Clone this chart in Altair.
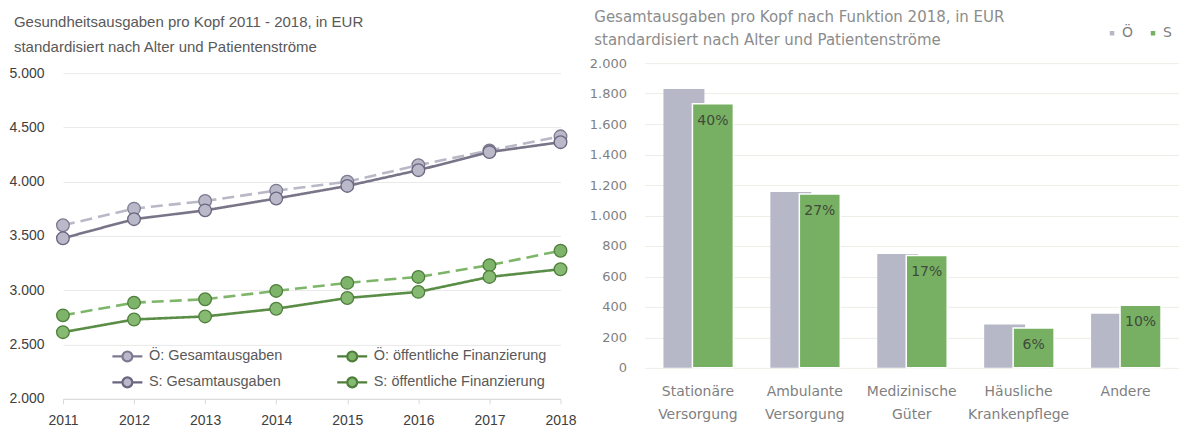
import altair as alt
import pandas as pd

# ---------- data: left chart ----------
years = [2011, 2012, 2013, 2014, 2015, 2016, 2017, 2018]
oe_total = [3599, 3752, 3822, 3918, 4000, 4152, 4288, 4418]
s_total = [3479, 3655, 3736, 3845, 3961, 4106, 4273, 4364]
oe_public = [2769, 2886, 2917, 2994, 3068, 3123, 3231, 3364]
s_public = [2614, 2731, 2759, 2830, 2929, 2985, 3123, 3194]

# legend grid is filled column by column: this order gives the reference's rows
series_names = ["Ö: Gesamtausgaben", "S: Gesamtausgaben",
                "Ö: öffentliche Finanzierung", "S: öffentliche Finanzierung"]
series_values = [oe_total, s_total, oe_public, s_public]

# ---------- data: right chart ----------
categories = ["Stationäre Versorgung", "Ambulante Versorgung", "Medizinische Güter",
              "Häusliche Krankenpflege", "Andere"]
oe_func = [1830, 1154, 748, 284, 356]
s_func = [1733, 1141, 738, 262, 411]
s_share = ["40%", "27%", "17%", "6%", "10%"]
lands = ["Ö", "S"]

# ---------- tables ----------
line_rows = []
for name, vals in zip(series_names, series_values):
    for yr, v in zip(years, vals):
        line_rows.append({"year": yr, "value": v, "series": name})
line_df = pd.DataFrame(line_rows)

bar_rows = []
for c, a, b, sh in zip(categories, oe_func, s_func, s_share):
    bar_rows.append({"cat": c, "land": "Ö", "value": a, "share": ""})
    bar_rows.append({"cat": c, "land": "S", "value": b, "share": sh})
bar_df = pd.DataFrame(bar_rows)

FONT = "Liberation Sans"
FONT_R = "DejaVu Sans"
dot_fmt = "replace(format(datum.value, ','), ',', '.')"

# styles, in the order of series_names
fill_colors = ["#B9B9C9", "#B9B9C9", "#7DB46A", "#86BA73"]
stroke_colors = ["#7D7990", "#6B6580", "#4E7F3A", "#4E7F3A"]
line_colors = ["#B8B8C6", "#7A7489", "#7DB669", "#5A8D46"]
line_dashes = [[12, 6], [1, 0], [12, 6], [1, 0]]
# line layer uses its own (reversed) domain order so its hidden legend stays separate
line_domain = series_names[::-1]
line_colors_r = line_colors[::-1]
line_dashes_r = line_dashes[::-1]

legend_shape = ("M-1,0L-0.33,0M0.33,0L1,0"
                "M-0.33,0A0.33,0.33,0,1,1,0.33,0A0.33,0.33,0,1,1,-0.33,0Z")

line_legend = alt.Legend(
    title=None, orient="none", legendX=48, legendY=277, columns=2,
    columnPadding=50, rowPadding=-8, padding=0,
    symbolType=legend_shape, symbolSize=900, symbolStrokeWidth=2.2,
    labelFont=FONT, labelFontSize=14.5, labelColor="#595959", labelOffset=5,
    labelLimit=400,
)

x_year = alt.X("year:Q", scale=alt.Scale(domain=[2011, 2018], nice=False, zero=False),
               axis=alt.Axis(values=years, format="d", title=None, grid=False,
                             domainColor="#D9D9D9", tickColor="#D9D9D9", tickSize=5,
                             labelPadding=10, labelFontSize=14, labelColor="#404040",
                             labelFont=FONT, labelFlush=False))
y_val = alt.Y("value:Q", scale=alt.Scale(domain=[2000, 5092], nice=False, zero=False),
              axis=alt.Axis(values=[2000, 2500, 3000, 3500, 4000, 4500, 5000],
                            labelExpr=dot_fmt, title=None, domain=False, ticks=False,
                            gridColor="#E9E9E9", labelPadding=19, labelFontSize=14,
                            labelColor="#404040", labelFont=FONT))

base_l = alt.Chart(line_df)
lines = base_l.mark_line(strokeWidth=2.6).encode(
    x=x_year, y=y_val,
    color=alt.Color("series:N", scale=alt.Scale(domain=line_domain, range=line_colors_r),
                    legend=None),
    strokeDash=alt.StrokeDash("series:N", scale=alt.Scale(domain=line_domain, range=line_dashes_r),
                              legend=None),
)
points = base_l.mark_point(filled=True, size=160, strokeWidth=1.3, opacity=1, shape="circle").encode(
    x=x_year, y=y_val,
    fill=alt.Fill("series:N", scale=alt.Scale(domain=series_names, range=fill_colors),
                  legend=line_legend),
    stroke=alt.Stroke("series:N", scale=alt.Scale(domain=series_names, range=stroke_colors),
                      legend=line_legend),
)
left = alt.layer(lines, points).properties(
    width=498, height=336,
    title=alt.TitleParams(
        text=["Gesundheitsausgaben pro Kopf 2011 - 2018, in EUR",
              "standardisiert nach Alter und Patientenströme"],
        anchor="start", frame="bounds", dx=5, fontSize=15, fontWeight="normal",
        color="#595959", font=FONT, lineHeight=25, offset=8),
)

# ---------- right chart ----------
x_cat = alt.X("cat:N", sort=categories,
              scale=alt.Scale(paddingInner=0, paddingOuter=0),
              axis=alt.Axis(labelExpr="split(datum.label, ' ')", title=None, labelAngle=0,
                            domain=False, ticks=False, labelPadding=17, labelFontSize=14,
                            labelLineHeight=23, labelColor="#7F7F7F", labelFont=FONT_R))
y_bar = alt.Y("value:Q", scale=alt.Scale(domain=[0, 2000], nice=False),
              axis=alt.Axis(values=list(range(0, 2001, 200)), labelExpr=dot_fmt, title=None,
                            domain=False, ticks=False, gridColor="#EEEDE6", labelPadding=18,
                            labelFontSize=13, labelColor="#7F7F7F", labelFont=FONT_R))
col_land = alt.Color("land:N", scale=alt.Scale(domain=lands, range=["#B6B8C8", "#77B062"]),
                     legend=alt.Legend(title=None, orient="none", direction="horizontal",
                                       legendX=461, legendY=-37, symbolType="square",
                                       symbolSize=36, labelFont=FONT_R, labelFontSize=14,
                                       labelColor="#7F7F7F", columnPadding=12, labelOffset=3,
                                       padding=0))

base_r = alt.Chart(bar_df)
bars_oe = base_r.transform_filter("datum.land == 'Ö'").mark_bar(size=41, xOffset=-14).encode(
    x=x_cat, y=y_bar, color=col_land)
bars_s = base_r.transform_filter("datum.land == 'S'").mark_bar(
    size=41, xOffset=15, stroke="white", strokeWidth=1.5).encode(x=x_cat, y=y_bar, color=col_land)
labels = base_r.transform_filter("datum.land == 'S'").mark_text(
    xOffset=15, dy=17, baseline="middle", fontSize=14, color="#3F4A3A", font=FONT_R).encode(
    x=x_cat, y=y_bar, text="share:N")

right = alt.layer(bars_oe, bars_s, labels).properties(
    width=535, height=305,
    title=alt.TitleParams(
        text=["Gesamtausgaben pro Kopf nach Funktion 2018, in EUR",
              "standardisiert nach Alter und Patientenströme"],
        anchor="start", frame="bounds", dx=5, fontSize=15, fontWeight="normal",
        color="#8C8C8C", font=FONT_R, lineHeight=23, offset=-22),
)

chart = alt.hconcat(left, right, spacing=12).resolve_scale(
    color="independent", fill="independent", stroke="independent", strokeDash="independent"
).resolve_legend(
    color="independent", fill="independent", stroke="independent", strokeDash="independent"
).configure(
    font=FONT, padding={"left": 0, "top": 2, "right": 0, "bottom": 0}
).configure_view(stroke=None)

chart.save("out.html", embed_options={"renderer": "svg", "actions": False})
